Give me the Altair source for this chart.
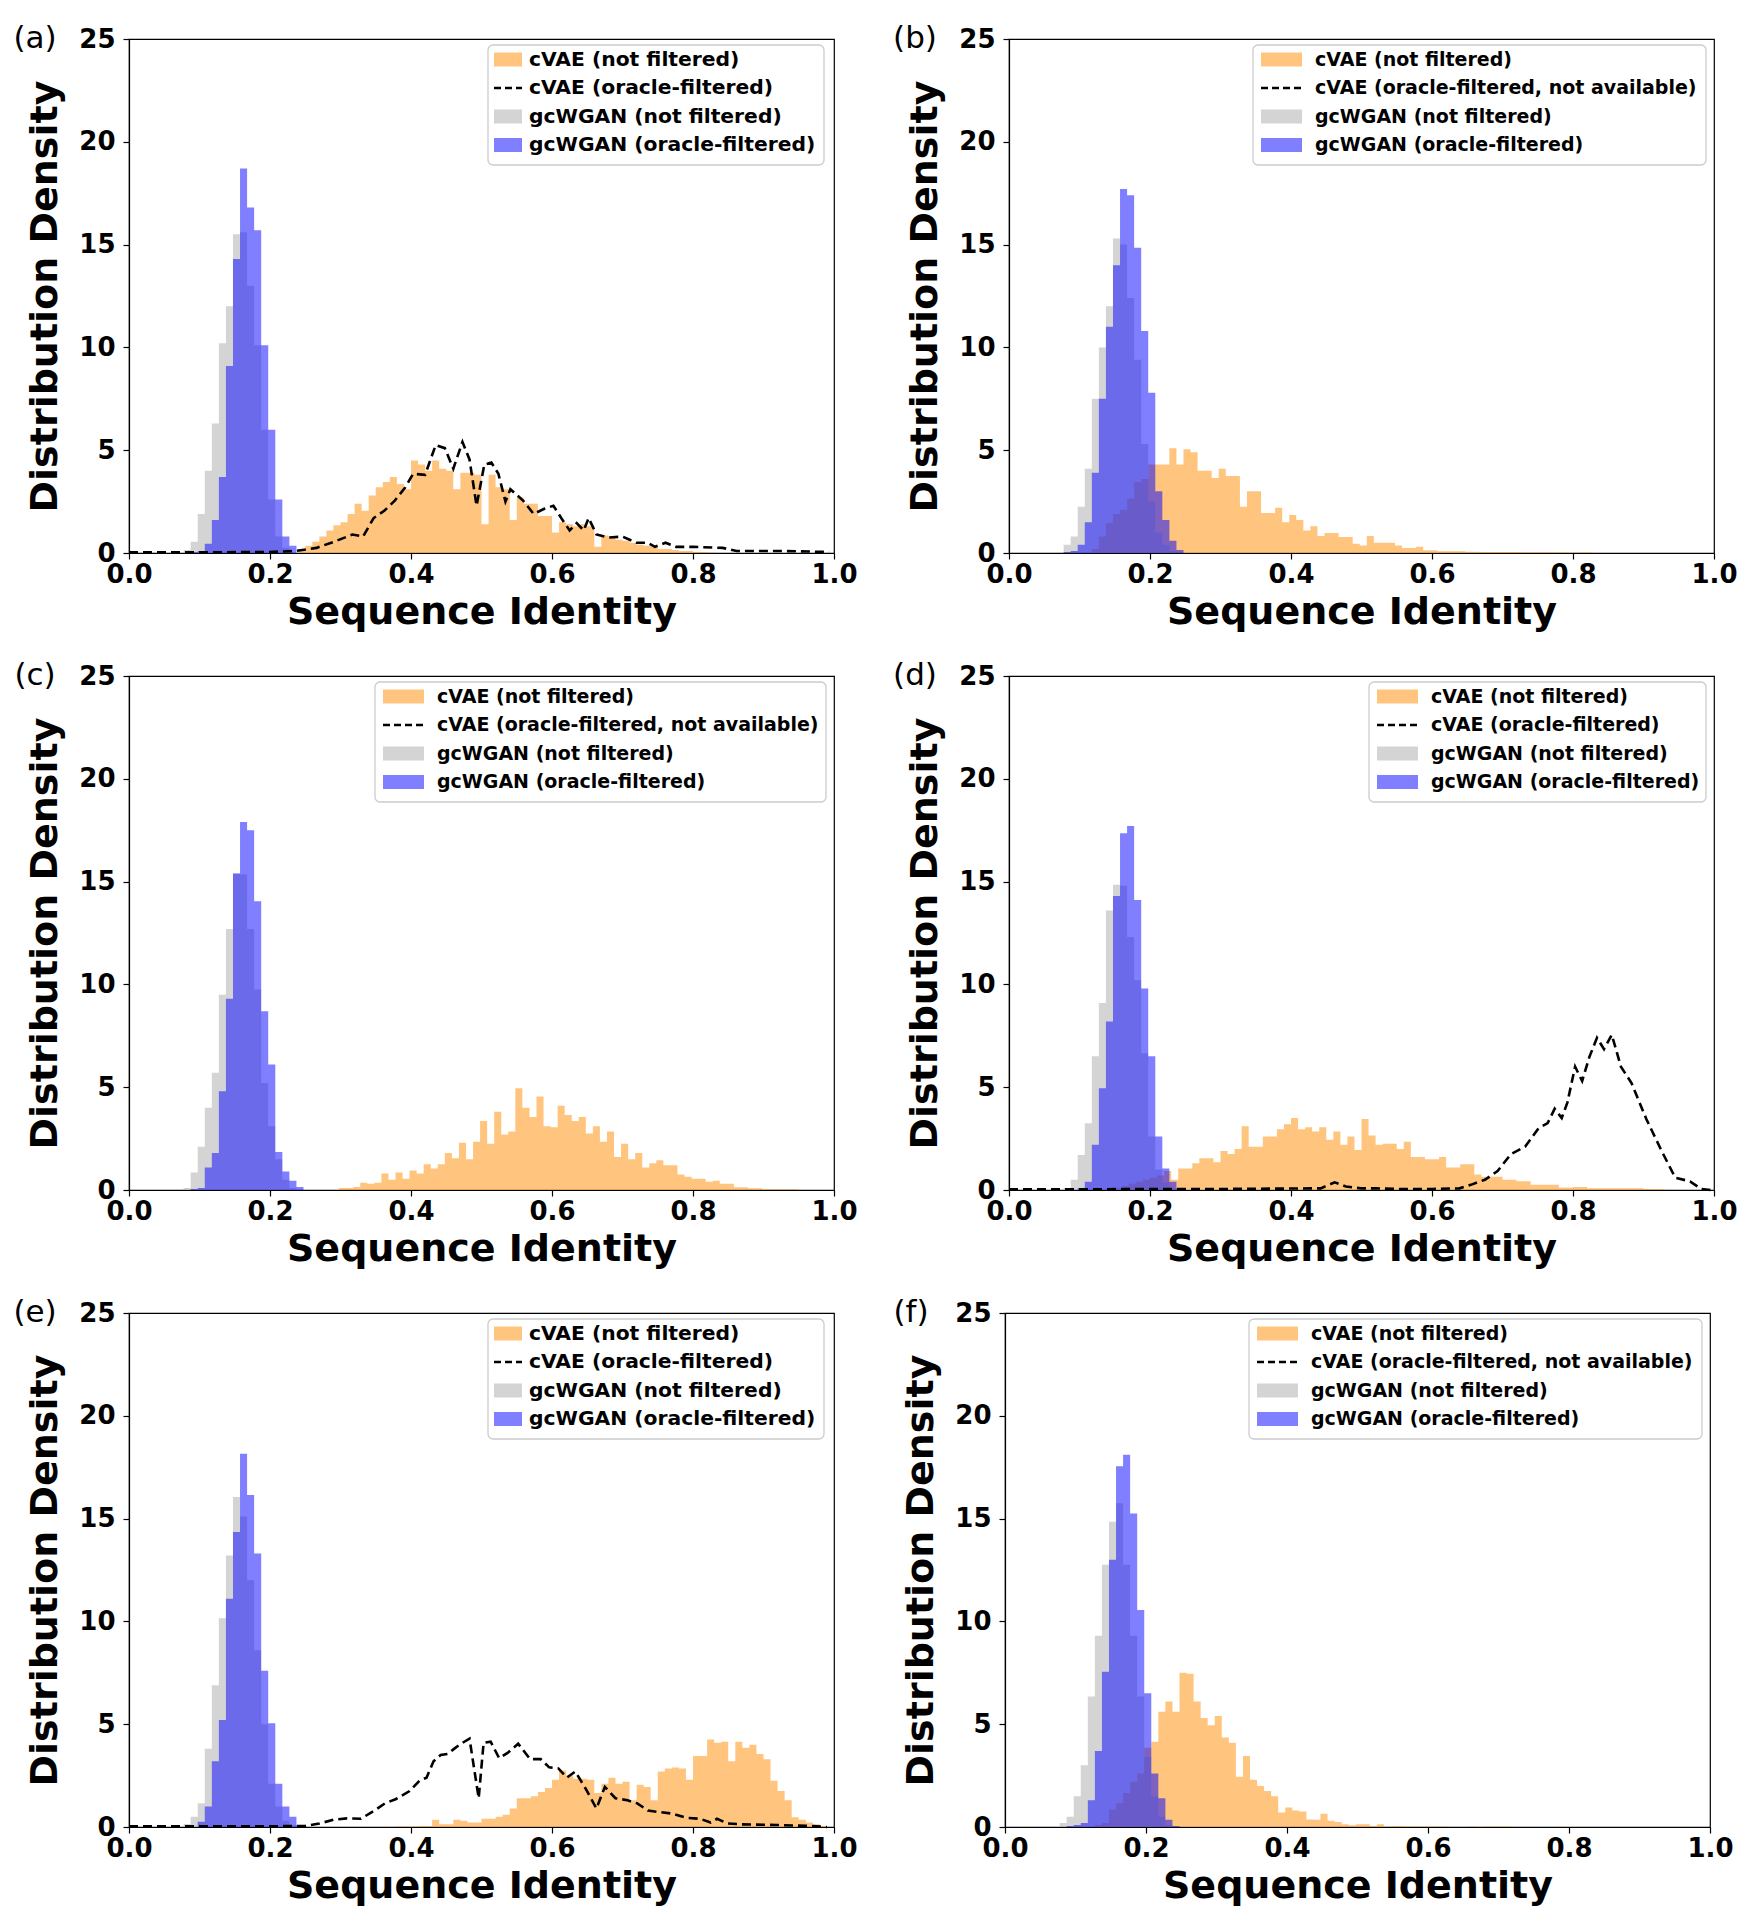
import altair as alt
import pandas as pd

# ---------------- data ----------------
BIN_WIDTH = 0.01
GC_START = 0.0775
X_TICKS = [0.0, 0.2, 0.4, 0.6, 0.8, 1.0]
Y_TICKS = [0, 5, 10, 15, 20, 25]
PANEL_LABELS = ["(a)", "(b)", "(c)", "(d)", "(e)", "(f)"]
LABEL_ORANGE = "cVAE (not filtered)"
LABEL_DASH = "cVAE (oracle-filtered)"
LABEL_DASH_NA = "cVAE (oracle-filtered, not available)"
LABEL_GRAY = "gcWGAN (not filtered)"
LABEL_BLUE = "gcWGAN (oracle-filtered)"

# (a)
A_GRAY = [0.15, 0.55, 1.9, 4.0, 6.3, 10.2, 12.0, 15.5, 15.6, 13.0, 10.1, 6.0, 2.6, 0.8, 0.25]
A_BLUE = [0, 0.05, 0.1, 0.45, 1.6, 3.7, 9.1, 14.3, 18.7, 16.8, 15.7, 10.1, 6.0, 2.6, 0.8, 0.35]
A_ORANGE_START = 0.24
A_ORANGE = [0.2, 0.35, 0.55, 0.8, 1.1, 1.35, 1.5, 1.9, 2.4, 2.05, 2.8, 3.2, 3.45, 3.7, 3.35, 3.1,
            4.5, 4.3, 4.0, 4.5, 4.1, 4.0, 3.1, 3.9, 3.9, 3.8, 1.4, 3.8, 3.2, 3.1, 1.6, 2.7, 2.4,
            2.4, 1.8, 1.8, 1.0, 1.5, 1.4, 1.3, 1.4, 1.3, 0.3, 0.85, 0.8, 0.65, 0.6, 0.5, 0.4, 0.35,
            0.3, 0.2, 0.2, 0.15, 0.1, 0.1, 0.05, 0.05, 0.03]
A_DASH_X = [0.0, 0.1, 0.2, 0.236, 0.266, 0.291, 0.317, 0.332, 0.347, 0.362, 0.377, 0.392, 0.403,
            0.42, 0.435, 0.448, 0.46, 0.473, 0.483, 0.493, 0.504, 0.514, 0.524, 0.534, 0.541, 0.559,
            0.574, 0.589, 0.602, 0.615, 0.625, 0.635, 0.645, 0.652, 0.663, 0.68, 0.70, 0.72, 0.736,
            0.746, 0.761, 0.776, 0.80, 0.842, 0.862, 0.923, 0.993]
A_DASH_Y = [0.03, 0.03, 0.05, 0.1, 0.25, 0.55, 0.9, 0.8, 1.7, 2.05, 2.55, 3.2, 3.85, 3.8, 5.25, 5.1,
            4.1, 5.4, 4.55, 2.3, 4.3, 4.4, 3.85, 2.5, 3.1, 2.55, 1.9, 2.15, 2.3, 1.6, 1.1, 1.45, 1.1,
            1.7, 0.9, 0.75, 0.8, 0.5, 0.5, 0.3, 0.5, 0.3, 0.3, 0.25, 0.1, 0.1, 0.05]

# (b)
B_GRAY = [0.4, 0.8, 2.25, 4.1, 7.5, 10.0, 12.0, 15.3, 15.0, 12.4, 9.4, 5.3, 2.5, 1.0, 0.4, 0.1]
B_BLUE = [0.05, 0.1, 0.4, 1.5, 3.9, 7.5, 11.0, 14.0, 17.7, 17.4, 14.85, 10.8, 7.8, 3.0, 1.6, 0.6, 0.15]
B_ORANGE_START = 0.1175
B_ORANGE = [0.2, 0.8, 1.45, 1.9, 2.1, 2.65, 3.45, 3.6, 4.3, 4.3, 4.3, 5.1, 4.3, 5.05, 4.9, 4.0, 4.0,
            3.65, 4.1, 3.75, 3.75, 2.25, 3.0, 3.0, 1.95, 1.95, 2.2, 1.5, 1.85, 1.6, 1.1, 1.3, 0.83,
            0.97, 0.97, 0.78, 0.78, 0.45, 0.37, 0.83, 0.5, 0.5, 0.5, 0.37, 0.24, 0.24, 0.3, 0.13,
            0.13, 0.08, 0.08, 0.08, 0.08, 0.06, 0.06, 0.05, 0.05, 0.05, 0.05, 0.05, 0.05, 0.04,
            0.04, 0.04, 0.04, 0.04, 0.03, 0.03, 0.03, 0.03, 0.03]

# (c)
C_GRAY = [0.1, 0.85, 2.1, 4.0, 5.7, 9.5, 12.7, 15.4, 15.35, 12.7, 9.75, 5.2, 3.1, 1.5, 0.5, 0.1]
C_BLUE = [0, 0.05, 0.1, 1.1, 1.8, 4.8, 9.3, 15.4, 17.9, 17.5, 14.05, 8.7, 6.1, 1.85, 0.9, 0.45, 0.15]
C_ORANGE_START = 0.298
C_ORANGE = [0.1, 0.1, 0.15, 0.35, 0.3, 0.35, 0.8, 0.5, 0.85, 0.55,
            0.95, 0.8, 1.25, 1.05, 1.25, 1.8, 1.55, 2.3, 1.5, 2.35,
            3.35, 2.25, 3.8, 2.7, 2.85, 4.95, 4.0, 3.55, 4.55, 3.1,
            3.05, 4.1, 3.65, 3.35, 3.55, 2.75, 3.1, 2.35, 2.85, 1.6,
            2.25, 1.5, 1.8, 1.1, 1.3, 1.45, 1.2, 1.2, 0.75, 0.65,
            0.55, 0.55, 0.4, 0.45, 0.3, 0.3, 0.13, 0.13, 0.08, 0.08,
            0.04, 0.04, 0.04, 0.04, 0.04]

# (d)
D_GRAY = [0.1, 0.5, 1.7, 3.25, 6.5, 9.1, 13.6, 14.85, 14.8, 12.3, 10.2, 6.65, 2.6, 1.0, 0.35, 0.1]
D_BLUE = [0, 0, 0.1, 0.4, 2.2, 4.95, 8.2, 14.3, 17.35, 17.7, 14.1, 9.8, 6.5, 2.6, 1.05, 0.4, 0.1]
D_ORANGE_START = 0.15
D_ORANGE = [0.1, 0.2, 0.3, 0.4, 0.5, 0.6, 0.7, 0.92, 0.5, 1.05, 1.05, 1.3, 1.55, 1.55, 1.35,
            1.9, 1.75, 2.0, 3.1, 2.1, 2.1, 2.6, 2.6, 2.95, 3.2, 3.5, 2.95, 3.05, 2.85, 3.05,
            2.45, 2.85, 2.2, 2.6, 1.95, 3.45, 2.65, 2.2, 2.25, 2.25, 2.0, 2.35, 1.6, 1.6, 1.5,
            1.5, 1.6, 1.1, 1.1, 1.25, 1.25, 0.75, 0.65, 0.65, 0.65, 0.5, 0.5, 0.42, 0.42, 0.25,
            0.25, 0.25, 0.25, 0.12, 0.12, 0.15, 0.15, 0.08, 0.08, 0.08, 0.08, 0.08, 0.08, 0.08,
            0.08, 0.05, 0.05, 0.05]
D_DASH_X = [0.0, 0.1, 0.2, 0.3, 0.442, 0.462, 0.478, 0.499, 0.52, 0.551, 0.6, 0.639, 0.655, 0.675,
            0.693, 0.712, 0.732, 0.751, 0.764, 0.774, 0.784, 0.792, 0.803, 0.813, 0.823, 0.834,
            0.844, 0.855, 0.868, 0.883, 0.904, 0.925, 0.945, 0.966, 0.982, 0.995]
D_DASH_Y = [0.03, 0.03, 0.05, 0.05, 0.08, 0.37, 0.17, 0.08, 0.08, 0.05, 0.05, 0.08, 0.25, 0.5,
            0.92, 1.75, 2.1, 3.0, 3.25, 3.95, 3.5, 4.25, 6.0, 5.3, 6.45, 7.4, 6.85, 7.55, 6.0,
            5.2, 3.45, 1.95, 0.6, 0.42, 0.05, 0.0]

# (e)
E_GRAY = [0.15, 0.5, 1.15, 3.8, 6.9, 10.15, 13.2, 16.05, 15.1, 12.0, 8.6, 5.0, 2.1, 1.0, 0.3, 0.1]
E_BLUE = [0, 0, 0.25, 1.0, 3.2, 5.2, 11.1, 14.35, 18.15, 16.15, 13.3, 7.6, 5.05, 2.1, 1.0, 0.5, 0.1]
E_ORANGE_START = 0.38
E_ORANGE = [0.03, 0.03,
            0.03, 0.05, 0.05, 0.35, 0.13, 0.13, 0.35, 0.3, 0.22, 0.22,
            0.4, 0.4, 0.5, 0.6, 0.9, 1.4, 1.4, 1.5, 1.7, 1.9,
            2.3, 2.75, 2.5, 2.35, 2.35, 2.3, 1.65, 2.1, 2.4, 2.1,
            2.2, 1.3, 2.05, 1.95, 1.3, 2.7, 2.85, 2.9, 2.85, 2.3,
            3.45, 3.45, 4.25, 4.1, 4.15, 3.2, 4.15, 3.85, 4.0, 3.55,
            3.3, 2.25, 1.75, 1.3, 0.47, 0.35, 0.22, 0.13, 0.05]
E_DASH_X = [0.0, 0.1, 0.2, 0.231, 0.25, 0.27, 0.29, 0.309, 0.329, 0.348, 0.363, 0.378, 0.398,
            0.412, 0.422, 0.432, 0.442, 0.452, 0.461, 0.471, 0.483, 0.496, 0.503, 0.513, 0.525,
            0.537, 0.552, 0.569, 0.584, 0.596, 0.609, 0.621, 0.633, 0.648, 0.663, 0.675, 0.69,
            0.707, 0.721, 0.736, 0.751, 0.771, 0.79, 0.81, 0.825, 0.834, 0.849, 0.869, 0.918,
            0.967, 0.99]
E_DASH_Y = [0.03, 0.03, 0.03, 0.05, 0.05, 0.17, 0.35, 0.42, 0.4, 0.8, 1.15, 1.35, 1.75, 2.25,
            2.4, 3.2, 3.5, 3.55, 3.8, 4.05, 4.3, 1.4, 4.1, 4.15, 3.35, 3.6, 4.05, 3.3, 3.3, 2.9,
            2.85, 2.4, 2.7, 1.85, 0.9, 1.95, 1.4, 1.3, 1.15, 0.8, 0.73, 0.65, 0.45, 0.4, 0.22,
            0.4, 0.17, 0.13, 0.1, 0.05, 0.0]

# (f)
F_GRAY = [0.2, 0.5, 1.5, 3.0, 6.35, 9.3, 12.75, 14.85, 15.75, 12.75, 9.3, 6.35, 3.4, 1.5, 0.5, 0.1]
F_BLUE = [0, 0.05, 0.1, 0.2, 1.3, 3.7, 7.55, 13.0, 17.55, 18.1, 15.25, 10.55, 6.5, 2.6, 1.4, 0.35, 0.05]
F_ORANGE_START = 0.1275
F_ORANGE = [0.1, 0.2, 0.85, 1.15, 1.65, 2.2, 2.6, 3.85, 4.15, 5.6, 6.1, 5.6, 7.5, 7.45, 6.1, 5.3,
            4.95, 5.4, 4.35, 4.1, 2.45, 3.45, 2.3, 2.0, 1.75, 1.5, 0.7, 0.95, 0.8, 0.75, 0.37,
            0.35, 0.65, 0.3, 0.24, 0.13, 0.08, 0.13, 0.13, 0.05, 0.13, 0.02, 0.05, 0.05, 0.02,
            0.02, 0.02, 0.02, 0.03, 0.03, 0, 0, 0, 0.03, 0, 0.02, 0.02, 0.03, 0.03]

# ---------------- style ----------------
PLOT_W = 705
PLOT_H = 514
ORANGE = "#ff8c00"
GRAY = "#a9a9a9"
BLUE = "#0000ff"
FONT = "DejaVu Sans"
DASH = [9, 5]
ONE = pd.DataFrame({"i": [0]})
# legend styles: (font size, patch x0, patch x1, text x, right margin)
LEG_A = dict(fs=20.3, p0=6, p1=34, tx=41, margin=10)
LEG_B = dict(fs=19, p0=8, p1=49, tx=62, margin=8)


def hist_df(start, heights):
    xs = [start + i * BIN_WIDTH for i in range(len(heights))]
    xs.append(start + len(heights) * BIN_WIDTH)
    ys = list(heights) + [0.0]
    return pd.DataFrame({"x": xs, "y": ys})


def enc_xy():
    xsc = alt.Scale(domain=[0, 1], nice=False, zero=False)
    ysc = alt.Scale(domain=[0, 25], nice=False)
    xax = alt.Axis(values=X_TICKS, format=".1f", title="Sequence Identity", grid=False,
                   labelFlush=False, labelPadding=2, titlePadding=6, zindex=1)
    yax = alt.Axis(values=Y_TICKS, title="Distribution Density", grid=False,
                   labelPadding=8, titlePadding=14, zindex=1)
    return dict(x=alt.X("x:Q", scale=xsc, axis=xax), y=alt.Y("y:Q", scale=ysc, axis=yax))


def legend_layers(dash_label, box_w, st):
    bx = PLOT_W - st["margin"] - box_w
    rows = [20.5, 49, 77.5, 106]
    out = []
    out.append(alt.Chart(ONE).mark_rect(fill="white", fillOpacity=0.85, stroke="#cccccc",
                                        strokeWidth=1.3, cornerRadius=5).encode(
        x=alt.value(bx), x2=alt.value(bx + box_w), y=alt.value(6), y2=alt.value(126)))
    for row, color in ((rows[0], ORANGE), (rows[2], GRAY), (rows[3], BLUE)):
        out.append(alt.Chart(ONE).mark_rect(fill=color, opacity=0.5).encode(
            x=alt.value(bx + st["p0"]), x2=alt.value(bx + st["p1"]),
            y=alt.value(row - 7), y2=alt.value(row + 7)))
    out.append(alt.Chart(ONE).mark_rule(color="black", strokeDash=[7, 4], strokeWidth=2.4).encode(
        x=alt.value(bx + st["p0"]), x2=alt.value(bx + st["p1"]), y=alt.value(rows[1])))
    for row, txt in zip(rows, [LABEL_ORANGE, dash_label, LABEL_GRAY, LABEL_BLUE]):
        out.append(alt.Chart(ONE).mark_text(text=txt, align="left", baseline="middle", font=FONT,
                                            fontSize=st["fs"], fontWeight="bold", color="black").encode(
            x=alt.value(bx + st["tx"]), y=alt.value(row)))
    return out


def panel(label, o_start, orange, gray, blue, dash_x, dash_y, dash_label, box_w, st):
    layers = [
        alt.Chart(hist_df(o_start, orange)).mark_area(interpolate="step-after", color=ORANGE, opacity=0.5).encode(**enc_xy()),
        alt.Chart(hist_df(GC_START, gray)).mark_area(interpolate="step-after", color=GRAY, opacity=0.5).encode(**enc_xy()),
        alt.Chart(hist_df(GC_START, blue)).mark_area(interpolate="step-after", color=BLUE, opacity=0.5).encode(**enc_xy()),
    ]
    if dash_x:
        layers.append(alt.Chart(pd.DataFrame({"x": dash_x, "y": dash_y})).mark_line(
            color="black", strokeDash=DASH, strokeWidth=2.6).encode(**enc_xy()))
    layers += legend_layers(dash_label, box_w, st)
    layers.append(alt.Chart(ONE).mark_text(text=label, font=FONT, fontSize=31, align="center",
                                           baseline="middle", color="black").encode(
        x=alt.value(-94), y=alt.value(0)))
    return alt.layer(*layers).properties(width=PLOT_W, height=PLOT_H)


pa = panel(PANEL_LABELS[0], A_ORANGE_START, A_ORANGE, A_GRAY, A_BLUE, A_DASH_X, A_DASH_Y, LABEL_DASH, 336, LEG_A)
pb = panel(PANEL_LABELS[1], B_ORANGE_START, B_ORANGE, B_GRAY, B_BLUE, None, None, LABEL_DASH_NA, 453, LEG_B)
pc = panel(PANEL_LABELS[2], C_ORANGE_START, C_ORANGE, C_GRAY, C_BLUE, None, None, LABEL_DASH_NA, 451, LEG_B)
pd_ = panel(PANEL_LABELS[3], D_ORANGE_START, D_ORANGE, D_GRAY, D_BLUE, D_DASH_X, D_DASH_Y, LABEL_DASH, 337, LEG_B)
pe = panel(PANEL_LABELS[4], E_ORANGE_START, E_ORANGE, E_GRAY, E_BLUE, E_DASH_X, E_DASH_Y, LABEL_DASH, 336, LEG_A)
pf = panel(PANEL_LABELS[5], F_ORANGE_START, F_ORANGE, F_GRAY, F_BLUE, None, None, LABEL_DASH_NA, 453, LEG_B)

chart = alt.vconcat(
    alt.hconcat(pa, pb, spacing=34),
    alt.hconcat(pc, pd_, spacing=34),
    alt.hconcat(pe, pf, spacing=34),
    spacing=27,
).properties(
    padding={"left": 4, "top": 14, "right": 2, "bottom": 2},
    background="white",
).configure_axis(
    labelFont=FONT, labelFontSize=26, labelFontWeight="bold", labelColor="black",
    titleFont=FONT, titleFontSize=38, titleFontWeight="bold", titleColor="black",
    tickColor="black", tickSize=6, tickWidth=1.2, domainColor="black", domainWidth=1.2, grid=False,
).configure_view(stroke="black", strokeWidth=1.2)

chart.save("out.html", embed_options={"renderer": "svg", "actions": False})
